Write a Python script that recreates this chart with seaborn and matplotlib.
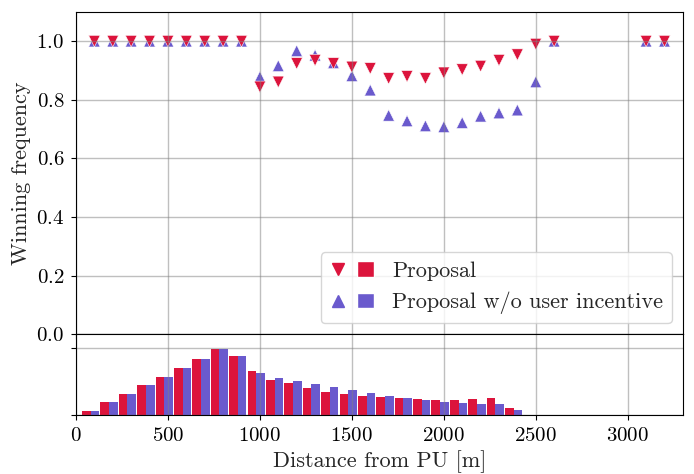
import pandas as pd
import matplotlib
matplotlib.use("Agg")
import matplotlib.pyplot as plt
import seaborn as sns
from matplotlib.lines import Line2D
from matplotlib.patches import Patch
from matplotlib.legend_handler import HandlerTuple

# Winning frequency vs distance (top panel)
distance = [100, 200, 300, 400, 500, 600, 700, 800, 900,
            1000, 1100, 1200, 1300, 1400, 1500, 1600, 1700, 1800,
            1900, 2000, 2100, 2200, 2300, 2400, 2500, 2600, 3100, 3200]
win_proposal = [1.0, 1.0, 1.0, 1.0, 1.0, 1.0, 1.0, 1.0, 1.0,
                0.844, 0.861, 0.924, 0.935, 0.924, 0.912, 0.907, 0.873, 0.880,
                0.873, 0.892, 0.903, 0.915, 0.935, 0.954, 0.990, 1.0, 1.0, 1.0]
win_no_incentive = [1.0, 1.0, 1.0, 1.0, 1.0, 1.0, 1.0, 1.0, 1.0,
                    0.878, 0.916, 0.967, 0.952, 0.926, 0.882, 0.833, 0.747, 0.728,
                    0.711, 0.708, 0.722, 0.744, 0.755, 0.765, 0.861, 1.0, 1.0, 1.0]

# Distribution of users (bottom panel), bin centres and relative counts
bin_centers = [80, 180, 280, 380, 480, 580, 680, 780, 880, 980, 1080, 1180,
               1280, 1380, 1480, 1580, 1680, 1780, 1880, 1980, 2080, 2180, 2280, 2380]
hist_proposal = [6.4, 19.9, 31.8, 45.2, 57.2, 70.6, 84.0, 99.0, 88.5, 66.1, 52.7, 48.2,
                 40.7, 34.8, 31.8, 28.8, 27.3, 25.8, 24.3, 22.8, 22.8, 24.3, 25.8, 10.9]
hist_no_incentive = [6.4, 19.9, 31.8, 45.2, 57.2, 70.6, 84.0, 99.0, 88.5, 63.1, 55.7, 51.2,
                     46.7, 42.2, 37.8, 33.3, 28.8, 25.8, 22.8, 19.9, 18.4, 16.9, 16.9, 7.9]

labels = ["Proposal", "Proposal w/o user incentive"]
colors = {"Proposal": "crimson", "Proposal w/o user incentive": "slateblue"}

sns.set_style("ticks")
plt.rcParams.update({
    "font.family": ["cmr10", "DejaVu Serif"],
    "mathtext.fontset": "cm",
    "axes.formatter.use_mathtext": True,
    "font.size": 16,
    "axes.axisbelow": "line",
    "axes.edgecolor": "black",
    "xtick.color": "black",
    "ytick.color": "black",
})

df_win = pd.DataFrame({
    "distance": distance * 2,
    "freq": win_no_incentive + win_proposal,
    "method": [labels[1]] * len(distance) + [labels[0]] * len(distance),
})
df_hist = pd.DataFrame({
    "distance": bin_centers * 2,
    "count": hist_proposal + hist_no_incentive,
    "method": [labels[0]] * len(bin_centers) + [labels[1]] * len(bin_centers),
})

fig, (ax, ax2) = plt.subplots(2, 1, figsize=(6.94, 4.74), dpi=100, sharex=True,
                              gridspec_kw={"height_ratios": [4, 1], "hspace": 0})
fig.subplots_adjust(left=0.1095, right=0.984, top=0.975, bottom=0.1245)

sns.scatterplot(data=df_win, x="distance", y="freq", hue="method", style="method",
                markers={labels[0]: "v", labels[1]: "^"}, palette=colors,
                hue_order=[labels[1], labels[0]], s=70, linewidth=0.4,
                edgecolor="white", legend=False, ax=ax)

edges = [c - 50 for c in bin_centers] + [bin_centers[-1] + 50]
sns.histplot(data=df_hist, x="distance", weights="count", hue="method",
             hue_order=labels, palette=colors, bins=edges, multiple="dodge",
             shrink=0.94, alpha=1, linewidth=0, legend=False, ax=ax2)

for a in (ax, ax2):
    a.grid(True, color="gray", alpha=0.5, linewidth=1)
    a.set_xlim(0, 3300)
    a.tick_params(labelsize=15, pad=5)

ax.set_ylim(0, 1.1)
ax.set_yticks([0.0, 0.2, 0.4, 0.6, 0.8, 1.0])
ax.set_ylabel("Winning frequency", fontsize=16)
ax.set_xlabel("")
ax.tick_params(axis="x", labelbottom=False)

ax2.set_ylim(0, 121)
ax2.set_yticks([0, 100])
ax2.set_yticklabels([])
ax2.set_ylabel("")
ax2.set_xticks([0, 500, 1000, 1500, 2000, 2500, 3000])
ax2.set_xlabel("Distance from PU [m]", fontsize=16)

handles = [
    (Line2D([], [], marker="v", color="crimson", linestyle="none", markersize=8),
     Patch(facecolor="crimson")),
    (Line2D([], [], marker="^", color="slateblue", linestyle="none", markersize=8),
     Patch(facecolor="slateblue")),
]
ax.legend(handles, labels, loc="lower right", fontsize=16,
          handler_map={tuple: HandlerTuple(ndivide=None, pad=0.5)},
          handlelength=2.0, handleheight=0.7)

fig.savefig("out.png", dpi=100)
